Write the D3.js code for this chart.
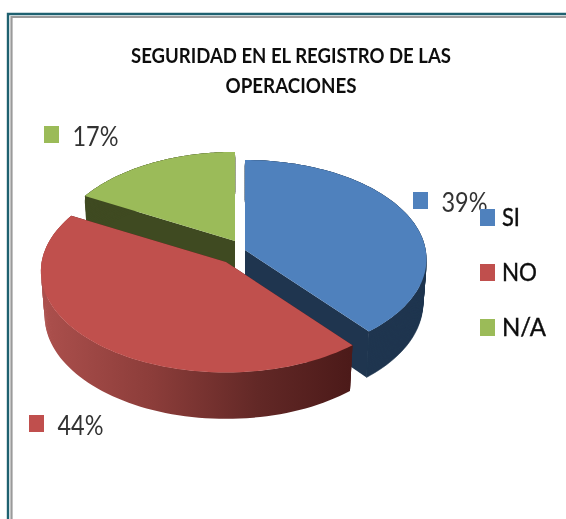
<!DOCTYPE html>
<html>
<head>
<meta charset="utf-8">
<script src="https://cdn.jsdelivr.net/npm/d3@7"></script>
<style>
html,body{margin:0;padding:0;background:#fff;overflow:hidden}
text{font-family:Lato,"Open Sans",sans-serif}
</style>
</head>
<body>
<svg id="c" width="566" height="519"></svg>
<script>
const titleLines = ["SEGURIDAD EN EL REGISTRO DE LAS", "OPERACIONES"];
const categories = ["SI", "NO", "N/A"];
const values = [39, 44, 17];
const topColors = ["#4f81bd", "#c0504d", "#9bbb59"];
const wallColors = ["#1f354f", "url(#redWall)", "#3f4a21"];
const apexX = [245, 226, 235];
const apexY = [250, 262, 241];
const sliceScale = [1, 1.02, 0.99];
const drawOrder = [2, 0, 1];
const labelX = [413, 29, 44];
const labelY = [192, 415, 126];
const legendY = [209, 264, 319];
const titleWidths = [320, 131];
const legendWidths = [18, 35, 44];

const R = 180.7, tilt = 0.544, persp = 0.0923, depth = 45, shrink = 0.98;

const svg = d3.select("#c");
const defs = svg.append("defs");
const grad = defs.append("linearGradient")
  .attr("id", "redWall").attr("gradientUnits", "userSpaceOnUse")
  .attr("x1", 45).attr("x2", 350).attr("y1", 0).attr("y2", 0);
[[0, "#ab4f4c"], [0.35, "#8c3d3a"], [0.7, "#622826"], [1, "#4c1a19"]]
  .forEach(([o, c]) => grad.append("stop").attr("offset", o).attr("stop-color", c));
defs.append("filter").attr("id", "soft").attr("x", "-5%").attr("y", "-20%").attr("width", "110%").attr("height", "140%")
  .append("feGaussianBlur").attr("stdDeviation", 0.45);

svg.append("rect").attr("width", 566).attr("height", 519).attr("fill", "#fff");

// frame
const frame = svg.append("g").attr("fill", "none");
frame.append("path").attr("d", "M8,519V14H566").attr("stroke", "#1f6170").attr("stroke-width", 2.4);
frame.append("path").attr("d", "M11.5,519V17H566").attr("stroke", "#9a9a9a").attr("stroke-width", 2.2);

const pie = d3.pie().sort(null).value(d => d)(values);

function project(i, a, z) {
  const u = Math.sin(a), v = -Math.cos(a);
  const f = (1 / (1 - persp * v)) * (1 - (1 - shrink) * z);
  const r = R * sliceScale[i];
  return [apexX[i] + f * r * u, apexY[i] + f * (r * tilt * v + z * depth)];
}
function arcPts(i, z) {
  const n = 80, s = pie[i].startAngle, e = pie[i].endAngle;
  return d3.range(n + 1).map(k => project(i, s + (e - s) * k / n, z));
}
const line = d3.line();
const chart = svg.append("g");
const bands = 24;
drawOrder.forEach(i => {
  const g = chart.append("g");
  const top = arcPts(i, 0), bot = arcPts(i, 1);
  const apexT = [apexX[i], apexY[i]], apexB = [apexX[i], apexY[i] + depth * shrink];
  const solid = i === 1 ? "#4c1a19" : wallColors[i];
  // radial walls
  [[top[0], bot[0]], [top[top.length - 1], bot[bot.length - 1]]].forEach(([t, b]) => {
    g.append("path").attr("fill", solid)
      .attr("d", line([apexT, t, b, apexB]) + "Z");
  });
  // outer rim: overlapping bands from the bottom edge up, so the silhouette stays straight
  d3.range(bands, 0, -1).forEach(k => {
    const lower = arcPts(i, k / bands);
    const upper = arcPts(i, Math.max(0, k - 2) / bands);
    const band = g.append("path").attr("fill", wallColors[i])
      .attr("d", line(upper.concat(lower.reverse())) + "Z");
    if (i !== 1 && k > 3) band.attr("stroke", solid).attr("stroke-width", 0.6);
  });
  // top face
  g.append("path").attr("fill", topColors[i])
    .attr("d", line([apexT].concat(top)) + "Z");
});

// title
const titleEl = svg.append("g").attr("text-anchor", "middle").attr("filter", "url(#soft)")
  .attr("font-weight", 700).attr("font-size", 20).attr("fill", "#111");
titleLines.forEach((t, i) => titleEl.append("text").attr("x", 291).attr("y", 63 + i * 29.5)
  .attr("textLength", titleWidths[i]).attr("lengthAdjust", "spacingAndGlyphs").text(t));

// data labels
const pct = svg.append("g").attr("filter", "url(#soft)");
values.forEach((v, i) => {
  pct.append("rect").attr("x", labelX[i]).attr("y", labelY[i])
    .attr("width", 15).attr("height", 17).attr("fill", topColors[i]);
  pct.append("text").attr("x", labelX[i] + 28.5).attr("y", labelY[i] + 20)
    .attr("font-size", 26).attr("textLength", 46).attr("lengthAdjust", "spacingAndGlyphs")
    .attr("fill", "#333").text(v + "%");
});

// legend
const leg = svg.append("g").attr("filter", "url(#soft)");
categories.forEach((c, i) => {
  leg.append("rect").attr("x", 480).attr("y", legendY[i])
    .attr("width", 15).attr("height", 17).attr("fill", topColors[i]);
  leg.append("text").attr("x", 502).attr("y", legendY[i] + 17)
    .attr("font-size", 24.5).attr("textLength", legendWidths[i]).attr("lengthAdjust", "spacingAndGlyphs")
    .attr("stroke", "#111").attr("stroke-width", 0.4).attr("fill", "#111").text(c);
});
</script>
</body>
</html>
